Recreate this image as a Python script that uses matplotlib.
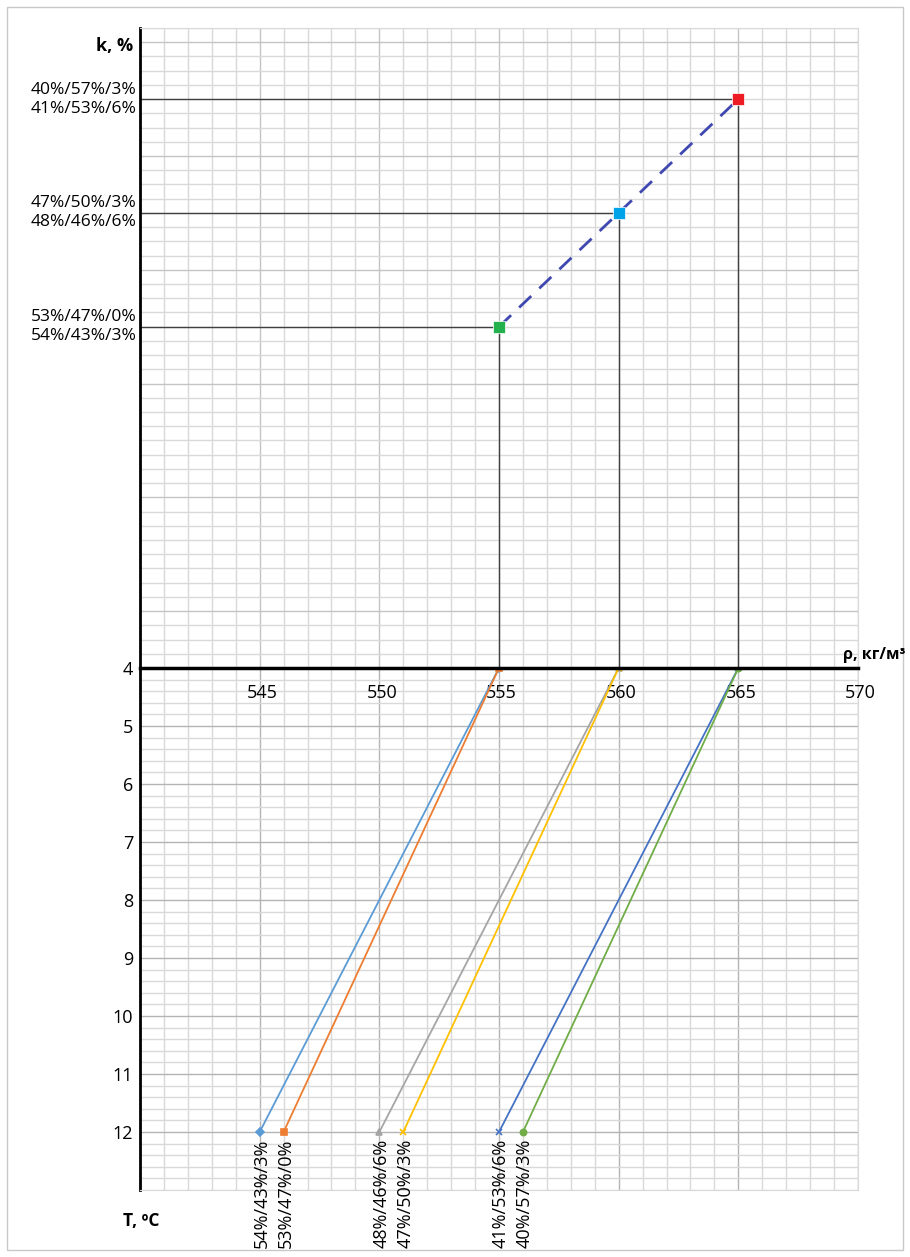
import matplotlib
matplotlib.use("Agg")
import matplotlib.pyplot as plt
from matplotlib.patches import Rectangle
import numpy as np

plt.rcParams['font.family'] = ['Open Sans', 'DejaVu Sans']

# --- data: top part (k vs density) ---
rho_points = [555, 560, 565]
k_level = [24, 32, 40]          # grid position of each k row
point_colors = ['#22B14C', '#00A2E8', '#ED1C24']
k_labels = ['53%/47%/0%\n54%/43%/3%',
            '47%/50%/3%\n48%/46%/6%',
            '40%/57%/3%\n41%/53%/6%']

# --- data: bottom part (T vs density) ---
T_vals = [12, 4]
series_names = ['54%/43%/3%', '53%/47%/0%', '48%/46%/6%',
                '47%/50%/3%', '41%/53%/6%', '40%/57%/3%']
series_rho = [[545, 555], [546, 555], [550, 560],
              [551, 560], [555, 565], [556, 565]]
series_colors = ['#5B9BD5', '#ED7D31', '#A5A5A5', '#FFC000', '#4472C4', '#70AD47']
series_markers = ['D', 's', '^', 'x', 'x', 'o']

x_ticks = [545, 550, 555, 560, 565, 570]
T_ticks = [4, 5, 6, 7, 8, 9, 10, 11, 12]

W, H = 910, 1257
fig = plt.figure(figsize=(W / 100, H / 100), dpi=100)

def box(x0, y0, x1, y1):
    return [x0 / W, 1 - y1 / H, (x1 - x0) / W, (y1 - y0) / H]

minor_c = '#d9d9d9'
major_c = '#b4b4b4'

# top axes
ax1 = fig.add_axes(box(140, 28, 858, 668))
ax1.set_xlim(540, 570)
ax1.set_ylim(0, 45)
ax1.set_xticks(np.arange(540, 571, 5))
ax1.set_xticks(np.arange(540, 571, 1), minor=True)
ax1.set_yticks(np.arange(4, 45, 8))
ax1.set_yticks(np.arange(0, 46, 1), minor=True)
ax1.grid(which='minor', color=minor_c, lw=1)
ax1.grid(which='major', color='#c4c4c4', lw=1)
ax1.tick_params(which='both', length=0, labelbottom=False, labelleft=False)
ax1.set_axisbelow(True)
for s in ['top', 'right']:
    ax1.spines[s].set_color(minor_c)
ax1.spines['bottom'].set_visible(False)
ax1.spines['left'].set_linewidth(2)

for r, k in zip(rho_points, k_level):
    ax1.plot([540, r], [k, k], color='#404040', lw=1)
    ax1.plot([r, r], [0, k], color='#404040', lw=1)
ax1.plot(rho_points, k_level, color='#3F48B0', lw=2, dashes=(6, 4), zorder=3)
for r, k, c in zip(rho_points, k_level, point_colors):
    ax1.plot(r, k, marker='s', ms=8.5, color=c, mec='white', mew=0.5, zorder=4)

for k, lab in zip(k_level, k_labels):
    ax1.text(-0.005, k, lab, transform=ax1.get_yaxis_transform(), ha='right',
             va='center', fontsize=12.5, linespacing=1.25)

# bottom axes
ax2 = fig.add_axes(box(140, 668, 858, 1190))
ax2.set_xlim(540, 570)
ax2.set_ylim(13, 4)
ax2.set_xticks(np.arange(540, 571, 5))
ax2.set_xticks(np.arange(540, 571, 1), minor=True)
ax2.set_yticks(T_ticks)
ax2.set_yticks(np.arange(4, 13.01, 0.2), minor=True)
ax2.grid(which='minor', color=minor_c, lw=1)
ax2.grid(which='major', color=major_c, lw=1)
ax2.tick_params(which='both', length=0, labelbottom=False)
ax2.tick_params(axis='y', labelsize=13, pad=5)
ax2.set_axisbelow(True)
for s in ['bottom', 'right']:
    ax2.spines[s].set_color(minor_c)
ax2.spines['top'].set_linewidth(2.5)
ax2.spines['top'].set_zorder(5)
ax2.spines['left'].set_linewidth(2)

for xt in x_ticks:
    ax2.text(xt + 0.1, 4.43, str(xt), ha='center', va='center', fontsize=13)

for name, rho, c, m in zip(series_names, series_rho, series_colors, series_markers):
    ax2.plot(rho, T_vals, color=c, lw=1.3, marker=m, ms=4.5, mew=1.2, zorder=3)
    ax2.text(rho[0] + 0.08, T_vals[0] + 0.12, name, rotation=90, ha='center', va='top',
             fontsize=13, clip_on=False)

fig.text(133 / W, 1 - 46 / H, 'k, %', ha='right', va='center',
         fontsize=13, fontweight='bold')
fig.text(843 / W, 1 - 655 / H, 'ρ, кг/м³', ha='left', va='center',
         fontsize=11.5, fontweight='bold')
fig.text(123 / W, 1 - 1221 / H, 'T, ºC', ha='left', va='center',
         fontsize=12.5, fontweight='bold')

fig.patches.append(Rectangle((7 / W, 1 - 1250 / H), 896 / W, 1243 / H,
                             transform=fig.transFigure, fill=False,
                             edgecolor='#c8c8c8', lw=1))

fig.savefig('out.png', dpi=100)
